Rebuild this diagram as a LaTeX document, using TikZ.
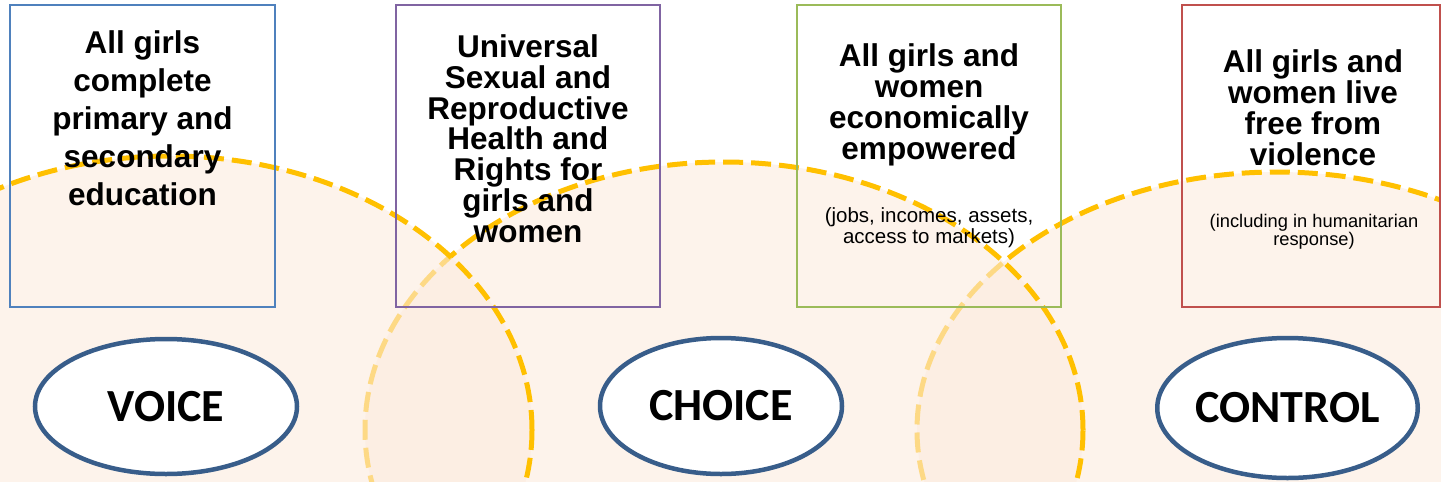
\documentclass[tikz,border=0pt]{standalone}
\usepackage{fontspec}
\setmainfont{Liberation Sans}
\newfontfamily\calfont{Carlito}
\usetikzlibrary{shapes.geometric}
\definecolor{gold}{HTML}{FFC000}
\definecolor{peach}{RGB}{252,235,222}
\definecolor{navy}{HTML}{385D8A}
\definecolor{bxblue}{HTML}{4F81BD}
\definecolor{bxpurple}{HTML}{8064A2}
\definecolor{bxgreen}{HTML}{9BBB59}
\definecolor{bxred}{HTML}{C0504D}
\begin{document}
\begin{tikzpicture}[x=1pt,y=-1pt,
  ring/.style={draw=gold, line width=5pt, dash pattern=on 20pt off 8pt, fill=peach, fill opacity=0.6},
  goalbox/.style={draw, rectangle, line width=2pt, inner sep=0pt, minimum height=302pt},
  bigtxt/.style={anchor=base, align=center, inner sep=0pt, font=\bfseries\fontsize{31.5}{30.7}\selectfont},
  smalltxt/.style={anchor=base, align=center, inner sep=0pt},
  oval/.style={ellipse, draw=navy, line width=4.5pt, fill=white, inner sep=0pt, font=\calfont\bfseries\fontsize{46}{46}\selectfont}]
\useasboundingbox (0,0) rectangle (1441,482);
\fill[white] (0,0) rectangle (1441,482);
\clip (0,0) rectangle (1441,482);
% overlapping dashed circles
\path[ring] (1277,430) ellipse [x radius=360pt, y radius=258pt];
\path[ring] (724,430) ellipse [x radius=359pt, y radius=268pt];
\path[ring] (170,430) ellipse [x radius=362pt, y radius=274pt];
% goal boxes
\node[goalbox, draw=bxblue, minimum width=265pt] (g1) at (142.5,156) {};
\node[goalbox, draw=bxpurple, minimum width=264pt] (g2) at (528,156) {};
\node[goalbox, draw=bxgreen, minimum width=264pt] (g3) at (929,156) {};
\node[goalbox, draw=bxred, minimum width=258pt] (g4) at (1311,156) {};
% texts (anchored at the baseline of the last line)
\node[bigtxt, font=\bfseries\fontsize{31.5}{38}\selectfont] (t1) at (142.5,205) {All girls\\complete\\primary and\\secondary\\education};
\node[bigtxt] (t2) at (528,242) {Universal\\Sexual and\\Reproductive\\Health and\\Rights for\\girls and\\women};
\node[bigtxt] (t3) at (929,159) {All girls and\\women\\economically\\empowered};
\node[smalltxt, font=\fontsize{20.5}{19}\selectfont] (t3s) at (929,243) {(jobs, incomes, assets,\\access to markets)};
\node[bigtxt] (t4) at (1313,165) {All girls and\\women live\\free from\\violence};
\node[smalltxt, font=\fontsize{18.3}{18}\selectfont] (t4s) at (1314,245) {(including in humanitarian\\response)};
% pillars
\node[oval, minimum width=262pt, minimum height=135pt] (voice) at (166,406.5) {VOICE};
\node[oval, minimum width=242pt, minimum height=136pt] (choice) at (721,406) {CHOICE};
\node[oval, minimum width=257pt, minimum height=140pt] (control) at (1287.5,408) {CONTROL};
\end{tikzpicture}
\end{document}
